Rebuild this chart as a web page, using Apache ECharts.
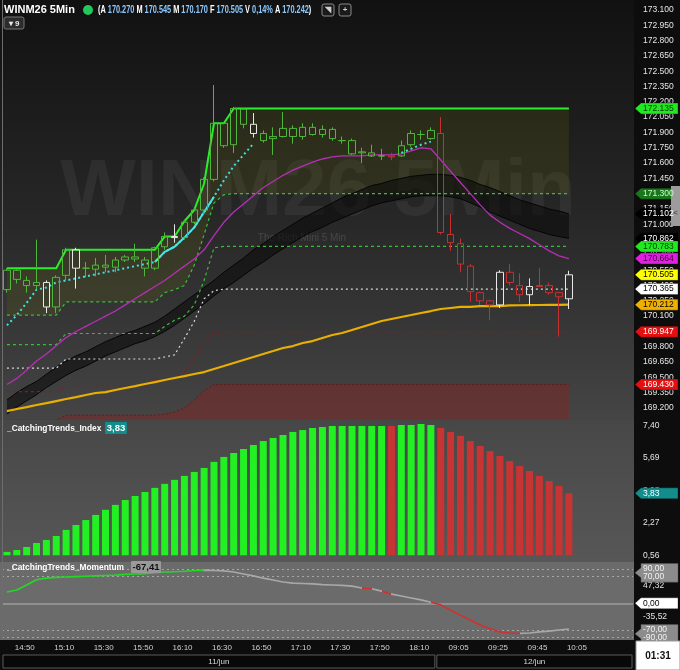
<!DOCTYPE html>
<html><head><meta charset="utf-8">
<script src="https://cdn.jsdelivr.net/npm/echarts@6/dist/echarts.min.js"></script>
<style>html,body{margin:0;padding:0;background:#0d0d0d}#c{width:680px;height:670px}</style>
</head><body><div id="c"></div>
<script>
const times = ['14:45','14:50','14:55','15:00','15:05','15:10','15:15','15:20','15:25','15:30','15:35','15:40','15:45','15:50','15:55','16:00','16:05','16:10','16:15','16:20','16:25','16:30','16:35','16:40','16:45','16:50','16:55','17:00','17:05','17:10','17:15','17:20','17:25','17:30','17:35','17:40','17:45','17:50','17:55','18:00','18:05','18:10','18:15','18:20','09:00','09:05','09:10','09:15','09:20','09:25','09:30','09:35','09:40','09:45','09:50','09:55','10:00','10:05'];
const sessionDays = ['11/jun','12/jun'];
const opens = [170.36,170.55,170.45,170.40,170.43,170.19,170.50,170.75,170.57,170.56,170.60,170.58,170.68,170.68,170.65,170.57,170.78,170.88,170.87,171.02,171.14,171.44,171.99,171.78,172.13,171.98,171.89,171.84,171.86,171.94,171.86,171.95,171.88,171.93,171.82,171.82,171.70,171.70,171.67,171.67,171.67,171.78,171.88,171.92,171.89,170.90,170.81,170.59,170.33,170.25,170.21,170.53,170.40,170.31,170.39,170.40,170.33,170.270];
const highs = [170.57,170.56,170.49,170.85,170.45,170.50,170.77,170.77,170.63,170.67,170.70,170.68,170.70,170.81,170.68,170.78,170.92,171.00,171.04,171.16,171.46,172.365,172.00,172.15,172.14,172.09,171.92,171.95,172.10,171.97,171.99,171.99,171.97,171.95,171.86,171.84,171.75,171.78,171.74,171.70,171.82,171.92,171.92,171.95,172.05,171.10,170.86,170.61,170.34,170.26,170.55,170.61,170.52,170.47,170.57,170.43,170.34,170.545];
const lows = [170.33,170.42,170.33,170.36,170.13,170.13,170.45,170.37,170.48,170.49,170.53,170.53,170.63,170.63,170.49,170.55,170.75,170.82,170.85,171.00,171.10,171.42,171.75,171.70,171.94,171.85,171.80,171.68,171.85,171.79,171.83,171.87,171.85,171.82,171.79,171.68,171.60,171.66,171.63,171.63,171.66,171.76,171.83,171.83,170.90,170.74,170.53,170.24,170.21,170.06,170.18,170.40,170.24,170.21,170.39,170.31,169.90,170.170];
const closes = [170.55,170.46,170.40,170.43,170.19,170.48,170.75,170.57,170.57,170.60,170.58,170.65,170.65,170.66,170.57,170.77,170.88,170.87,171.02,171.14,171.44,171.99,171.77,172.135,171.98,171.89,171.82,171.86,171.94,171.86,171.95,171.88,171.93,171.84,171.82,171.69,171.71,171.67,171.67,171.66,171.77,171.89,171.88,171.84,170.92,170.82,170.61,170.34,170.25,170.21,170.53,170.43,170.31,170.39,170.40,170.33,170.29,170.505];
const candleState = ['G','G','G','G','W','G','G','W','G','G','G','G','G','G','G','G','G','W','G','G','G','G','G','G','G','W','G','G','G','G','G','G','G','G','G','G','G','G','G','R','G','G','G','G','R','R','R','R','R','R','W','R','R','W','R','R','R','W'];
const topLine = [170.57,170.57,170.57,170.57,170.57,170.57,170.75,170.75,170.75,170.75,170.75,170.75,170.75,170.75,170.75,170.75,170.88,170.88,171.03,171.14,171.40,171.99,171.99,172.135,172.135,172.135,172.135,172.135,172.135,172.135,172.135,172.135,172.135,172.135,172.135,172.135,172.135,172.135,172.135,172.135,172.135,172.135,172.135,172.135,172.135,172.135,172.135,172.135,172.135,172.135,172.135,172.135,172.135,172.135,172.135,172.135,172.135,172.135];
const upperBandA = [170.11,170.11,170.11,170.11,170.11,170.11,170.24,170.24,170.24,170.24,170.24,170.24,170.24,170.24,170.24,170.24,170.33,170.36,170.40,170.60,170.90,171.21,171.29,171.30,171.30,171.30,171.30,171.30,171.30,171.30,171.30,171.30,171.30,171.30,171.30,171.30,171.30,171.30,171.30,171.30,171.30,171.30,171.30,171.30,171.30,171.30,171.30,171.30,171.30,171.30,171.30,171.30,171.30,171.30,171.30,171.30,171.30,171.30];
const upperBandB = [169.82,169.82,169.82,169.82,169.82,169.82,169.93,169.93,169.93,169.93,169.93,169.93,169.93,169.93,169.93,169.93,170.00,170.06,170.10,170.21,170.45,170.77,170.783,170.783,170.783,170.783,170.783,170.783,170.783,170.783,170.783,170.783,170.783,170.783,170.783,170.783,170.783,170.783,170.783,170.783,170.783,170.783,170.783,170.783,170.783,170.783,170.783,170.783,170.783,170.783,170.783,170.783,170.783,170.783,170.783,170.783,170.783,170.783];
const centerLine = [169.59,169.59,169.59,169.59,169.59,169.59,169.68,169.68,169.68,169.68,169.68,169.68,169.68,169.68,169.68,169.68,169.70,169.72,169.88,170.05,170.27,170.35,170.365,170.365,170.365,170.365,170.365,170.365,170.365,170.365,170.365,170.365,170.365,170.365,170.365,170.365,170.365,170.365,170.365,170.365,170.365,170.365,170.365,170.365,170.365,170.365,170.365,170.365,170.365,170.365,170.365,170.365,170.365,170.365,170.365,170.365,170.365,170.365];
const lowerBandB = [169.36,169.36,169.36,169.36,169.36,169.36,169.42,169.42,169.42,169.42,169.42,169.42,169.42,169.42,169.42,169.47,169.47,169.50,169.55,169.68,169.85,169.93,169.947,169.947,169.947,169.947,169.947,169.947,169.947,169.947,169.947,169.947,169.947,169.947,169.947,169.947,169.947,169.947,169.947,169.947,169.947,169.947,169.947,169.947,169.947,169.947,169.947,169.947,169.947,169.947,169.947,169.947,169.947,169.947,169.947,169.947,169.947,169.947];
const lowerBandA = [169.08,169.08,169.08,169.08,169.08,169.08,169.13,169.13,169.13,169.13,169.13,169.13,169.13,169.13,169.13,169.13,169.14,169.16,169.20,169.28,169.37,169.43,169.43,169.43,169.43,169.43,169.43,169.43,169.43,169.43,169.43,169.43,169.43,169.43,169.43,169.43,169.43,169.43,169.43,169.43,169.43,169.43,169.43,169.43,169.43,169.43,169.43,169.43,169.43,169.43,169.43,169.43,169.43,169.43,169.43,169.43,169.43,169.43];
const stopLine = [170.01,170.11,170.23,170.36,170.38,170.43,170.45,170.47,170.49,170.51,170.53,170.55,170.57,170.59,170.61,170.63,170.73,170.78,170.87,170.97,171.12,171.27,171.43,171.57,171.68,171.79,null,null,null,null,null,null,null,null,null,null,null,null,null,null,171.70,171.74,171.78,171.81,null,null,null,null,null,null,null,null,null,null,null,null,null,null];
const magentaLine = [169.43,169.49,169.57,169.66,169.73,169.81,169.89,169.95,170.00,170.05,170.10,170.15,170.21,170.27,170.33,170.39,170.45,170.52,170.59,170.66,170.75,170.89,171.02,171.12,171.20,171.28,171.36,171.42,171.48,171.53,171.57,171.61,171.64,171.66,171.67,171.67,171.67,171.68,171.68,171.68,171.69,171.72,171.75,171.74,171.63,171.52,171.41,171.30,171.19,171.09,171.02,170.96,170.91,170.86,170.80,170.74,170.69,170.664];
const bandUpper = [169.28,169.35,169.41,169.46,169.53,169.60,169.66,169.71,169.75,169.80,169.85,169.89,169.93,169.96,170.00,170.04,170.10,170.17,170.24,170.31,170.38,170.45,170.53,170.60,170.67,170.75,170.81,170.88,170.94,171.00,171.06,171.11,171.16,171.21,171.26,171.30,171.34,171.38,171.40,171.43,171.45,171.47,171.48,171.49,171.49,171.48,171.46,171.43,171.39,171.36,171.32,171.28,171.24,171.21,171.18,171.15,171.13,171.102];
const bandLower = [169.14,169.21,169.27,169.33,169.40,169.46,169.52,169.57,169.61,169.66,169.71,169.75,169.79,169.83,169.86,169.90,169.95,170.01,170.08,170.15,170.22,170.30,170.37,170.43,170.50,170.57,170.63,170.70,170.76,170.82,170.88,170.93,170.97,171.02,171.06,171.10,171.14,171.18,171.21,171.23,171.25,171.27,171.28,171.28,171.28,171.27,171.25,171.21,171.17,171.12,171.08,171.04,171.00,170.96,170.93,170.90,170.88,170.862];
const yellowLine = [169.170,169.190,169.209,169.229,169.248,169.268,169.288,169.307,169.327,169.347,169.356,169.376,169.396,169.415,169.435,169.454,169.474,169.494,169.513,169.533,169.552,169.582,169.611,169.641,169.670,169.699,169.729,169.758,169.788,169.807,169.837,169.856,169.886,169.915,169.935,169.964,169.994,170.023,170.052,170.072,170.092,170.111,170.131,170.150,170.170,170.180,170.190,170.190,170.199,170.199,170.199,170.205,170.207,170.208,170.209,170.210,170.211,170.212];
const indexValues = [0.74,0.84,1.00,1.21,1.37,1.58,1.90,2.16,2.42,2.69,2.96,3.22,3.48,3.69,3.90,4.12,4.33,4.54,4.75,4.96,5.17,5.49,5.75,5.96,6.17,6.38,6.59,6.75,6.91,7.07,7.17,7.28,7.33,7.38,7.38,7.38,7.38,7.38,7.38,7.38,7.44,7.44,7.49,7.44,7.28,7.07,6.86,6.59,6.33,6.06,5.80,5.54,5.27,5.01,4.75,4.48,4.22,3.83];
const indexState = [1,1,1,1,1,1,1,1,1,1,1,1,1,1,1,1,1,1,1,1,1,1,1,1,1,1,1,1,1,1,1,1,1,1,1,1,1,1,1,-1,1,1,1,1,-1,-1,-1,-1,-1,-1,-1,-1,-1,-1,-1,-1,-1,-1];
const momentumValues = [29.7,35,48,62,66,68,69,70,71,72,73,74,76,77,78,80,82,83,84,86,87,86,85,82,77,72,66,61,56,53,52,51,49,48,47,45,40,38,32,24,19,14,9,3,-4,-18,-31,-44,-57,-67,-75,-78,-79,-78,-75,-73,-70,-67.41];
const momentumState = [1,1,1,1,1,1,1,1,1,1,1,1,1,1,1,1,1,1,1,1,1,0,0,0,0,0,0,0,0,0,0,0,0,0,0,0,0,-1,0,-1,0,0,0,0,-1,-1,-1,-1,-1,-1,-1,-1,-1,0,0,0,0,0];
const momentumLevels = [90,70,0,-70,-90];
const momentumTickLabels = [47.32,-35.52];
const header = {symbol:'WINM26 5Min', variation:'0,14%', average:'170.242'};

const N = times.length, EXTRA = 6;
const cats = times.concat(Array.from({length:EXTRA},(_,i)=>' '.repeat(i+1)));
const pad = a => a.concat(Array(EXTRA).fill(null));
const FONT = '"Liberation Sans", Arial, sans-serif';

const palette = {
  G:{up:'rgba(0,0,0,0)', upB:'#4fb83a', dn:'#1f9e1f', dnB:'#55cc4a'},
  W:{up:'rgba(0,0,0,0)', upB:'#e8e8e8', dn:'#bdbdae', dnB:'#dcdccf'},
  R:{up:'rgba(0,0,0,0)', upB:'#c83030', dn:'#8e0c0c', dnB:'#c42828'}
};
const candleData = times.map((t,i)=>{const c=palette[candleState[i]];return {value:[opens[i],closes[i],lows[i],highs[i]],itemStyle:{color:c.up,color0:c.dn,borderColor:c.upB,borderColor0:c.dnB,borderWidth:1}};});
const indexData = indexValues.map((v,i)=>({value:v,itemStyle:{color:indexState[i]>0?'#22f022':'#c83434'}}));
const boxDiff = topLine.map((v,i)=>+(v-upperBandA[i]).toFixed(4));
const bandDiff = bandUpper.map((v,i)=>+(v-bandLower[i]).toFixed(4));

const pieceColors = {'1':'#22d822','0':'#a8a8a8','-1':'#d03030'};
const pieces = [];
let runStart = 0;
for (let i=1;i<=N;i++){ if(i===N || momentumState[i]!==momentumState[runStart]){ pieces.push({gt: runStart-1, lte: i-1, color: pieceColors[momentumState[runStart]]}); runStart=i; } }

const line = (data, color, width, type, extra) => Object.assign({type:'line', xAxisIndex:0, yAxisIndex:0, data:pad(data), symbol:'none', silent:true, connectNulls:false, lineStyle:{color, width, type:type||'solid'}}, extra||{});

const chart = echarts.init(document.getElementById('c'), null, {renderer:'canvas', width:680, height:670});
const option = {
  animation:false,
  backgroundColor:'#0d0d0d',
  grid:[
    {left:2,right:47,top:0,height:423.3},
    {left:2,right:47,top:420,height:135.3},
    {left:2,right:47,top:562,height:78}
  ],
  xAxis:[0,1,2].map(g=>({type:'category',gridIndex:g,data:cats,boundaryGap:true,
    axisLine:{show:false},axisTick:{show:false},splitLine:{show:false},
    axisLabel:g===2?{show:true,interval:(idx)=>idx<N && idx%4===1,color:'#d0d0d0',fontSize:8,fontFamily:FONT,margin:4,padding:[0,0,0,16]}:{show:false}})),
  yAxis:[
    {type:'value',gridIndex:0,position:'right',min:169.05,max:173.198,interval:0.15,scale:true,
      axisLine:{show:false},axisTick:{show:false},splitLine:{show:false},
      axisLabel:{color:'#e4e4e4',fontSize:8.5,fontFamily:FONT,margin:10,showMinLabel:false,showMaxLabel:false,formatter:v=>v.toFixed(3)}},
    {type:'value',gridIndex:1,position:'right',min:0.56,max:7.70,interval:1.71,
      axisLine:{show:false},axisTick:{show:false},splitLine:{show:false},
      axisLabel:{color:'#e4e4e4',fontSize:8.5,fontFamily:FONT,margin:10,showMaxLabel:false,formatter:v=>v.toFixed(2).replace('.',',')}},
    {type:'value',gridIndex:2,position:'right',min:-96.3,max:108.4,
      axisLine:{show:false},axisTick:{show:false},splitLine:{show:false},axisLabel:{show:false}}
  ],
  visualMap:[{type:'piecewise',show:false,seriesIndex:15,dimension:0,pieces,outOfRange:{color:'#a8a8a8'}}],
  series:[
    line(lowerBandA,'#6a1818',1,[2,2],{areaStyle:{origin:'start',color:'rgba(150,28,28,0.55)'},z:1}),
    line(upperBandA,'rgba(0,0,0,0)',0,'solid',{stack:'box',z:1}),
    line(boxDiff,'rgba(0,0,0,0)',0,'solid',{stack:'box',areaStyle:{color:'rgba(105,115,10,0.26)'},z:1}),
    line(bandLower,'#050505',1,'solid',{stack:'band',z:2}),
    line(bandDiff,'#050505',1,'solid',{stack:'band',areaStyle:{color:'rgba(8,8,8,0.82)'},z:2}),
    line(upperBandA,'#3cbc3c',1.2,[3,3],{z:3}),
    line(upperBandB,'#3cbc3c',1.2,[3,3],{z:3}),
    line(centerLine,'#d8d8d8',1.2,[2,3],{z:3}),
    line(lowerBandB,'#8a1c1c',1.2,[3,3],{z:3}),
    line(magentaLine,'#b52fb5',1.3,'solid',{z:4}),
    line(yellowLine,'#e8b000',2.2,'solid',{z:4}),
    line(stopLine,'#45dede',2,[2,3],{z:5}),
    line(stopLine.map((v,i)=>(i>=15&&i<=21)?v:null),'#45e6e6',2,'solid',{z:5}),
    line(topLine,'#2aee2a',2,'solid',{z:6}),
    {type:'candlestick',xAxisIndex:0,yAxisIndex:0,data:candleData,barWidth:7,silent:true,z:7},
    {type:'line',xAxisIndex:2,yAxisIndex:2,data:pad(momentumValues),symbol:'none',silent:true,lineStyle:{width:1.6},z:5,
      markLine:{silent:true,symbol:'none',label:{show:false},data:momentumLevels.map(v=>({yAxis:v,lineStyle:{color:v===0?'#9c9c9c':'#a6a6a6',width:v===0?1.5:1,type:v===0?'solid':[2,3]}}))}},
    {type:'bar',xAxisIndex:1,yAxisIndex:1,data:indexData,barWidth:7,silent:true,z:3}
  ]
};
chart.setOption(option);

const Y = (ax,v)=>chart.convertToPixel({yAxisIndex:ax},v);
const X = (i)=>chart.convertToPixel({xAxisIndex:2},i);
const band = X(1)-X(0);
const g = [];
g.push({type:'rect',shape:{x:0,y:0,width:634,height:420},style:{fill:new echarts.graphic.LinearGradient(0,0,0,1,[{offset:0,color:'#111111'},{offset:0.5,color:'#262626'},{offset:1,color:'#454545'}])},z:-10,silent:true});
g.push({type:'rect',shape:{x:0,y:420,width:634,height:142},style:{fill:new echarts.graphic.LinearGradient(0,0,0,1,[{offset:0,color:'#474747'},{offset:1,color:'#575757'}])},z:-10,silent:true});
g.push({type:'rect',shape:{x:0,y:420,width:634,height:3.5},style:{fill:'#474747'},z:20,silent:true});
g.push({type:'rect',shape:{x:0,y:562,width:634,height:78},style:{fill:'#6b6b6b'},z:-10,silent:true});
g.push({type:'line',shape:{x1:2.5,y1:0,x2:2.5,y2:640},style:{stroke:'#6d6d6d',lineWidth:1},z:30,silent:true});
g.push({type:'text',x:318,y:193,z:0,silent:true,style:{text:header.symbol,font:'bold 80px '+FONT,fill:'rgba(255,255,255,0.055)',align:'center',verticalAlign:'middle'}});
g.push({type:'text',x:302,y:238,z:0,silent:true,style:{text:'The Rich Mini 5 Min',font:'10px '+FONT,fill:'rgba(255,255,255,0.13)',align:'center',verticalAlign:'middle'}});
const L = t=>'{l|'+t+'}', Nn = t=>'{n|'+t+'}';
g.push({type:'text',x:4,y:10,z:100,silent:true,style:{text:header.symbol,font:'bold 11px '+FONT,fill:'#ffffff',verticalAlign:'middle'}});
g.push({type:'circle',shape:{cx:88,cy:10,r:5},style:{fill:'#22c85a'},z:100,silent:true});
g.push({type:'text',x:98,y:10,scaleX:0.70,z:100,silent:true,style:{verticalAlign:'middle',
  text:L('(A ')+Nn(opens[N-1].toFixed(3))+L(' M ')+Nn(highs[N-1].toFixed(3))+L(' M ')+Nn(lows[N-1].toFixed(3))+L(' F ')+Nn(closes[N-1].toFixed(3))+L(' V ')+Nn(header.variation)+L(' A ')+Nn(header.average)+L(')'),
  rich:{l:{fill:'#ffffff',fontSize:10.5,fontWeight:'bold',fontFamily:FONT},n:{fill:'#8ec9ff',fontSize:10.5,fontWeight:'bold',fontFamily:FONT}}}});
[[322,''],[339,'+']].forEach(([x,t])=>{
  g.push({type:'rect',shape:{x:x,y:4,width:12,height:12,r:2},style:{fill:'#1a1a1a',stroke:'#8a8a8a',lineWidth:1},z:100,silent:true});
  g.push({type:'text',x:x+6,y:10,z:101,silent:true,style:{text:t||'\u25E5',font:'bold 8px '+FONT,fill:'#cfcfcf',align:'center',verticalAlign:'middle'}});
});
g.push({type:'rect',shape:{x:4,y:17,width:20,height:12,r:2},style:{fill:'#2c2c2c',stroke:'#777',lineWidth:1},z:100,silent:true});
g.push({type:'text',x:14,y:23.5,z:101,silent:true,style:{text:'\u25BE 9',font:'bold 8px '+FONT,fill:'#e8e8e8',align:'center',verticalAlign:'middle'}});
g.push({type:'text',x:7,y:428,scaleX:0.88,z:100,silent:true,style:{text:'_CatchingTrends_Index',font:'bold 9.5px '+FONT,fill:'#ffffff',verticalAlign:'middle'}});
g.push({type:'rect',shape:{x:105,y:422,width:22,height:12,r:1},style:{fill:'#138c8c'},z:100,silent:true});
g.push({type:'text',x:116,y:428,z:101,silent:true,style:{text:indexValues[N-1].toFixed(2).replace('.',','),font:'bold 9.5px '+FONT,fill:'#ffffff',align:'center',verticalAlign:'middle'}});
g.push({type:'text',x:7,y:567,scaleX:0.88,z:100,silent:true,style:{text:'_CatchingTrends_Momentum',font:'bold 9.5px '+FONT,fill:'#ffffff',verticalAlign:'middle'}});
g.push({type:'rect',shape:{x:131,y:561,width:30,height:12,r:1},style:{fill:'#9a9a9a'},z:100,silent:true});
g.push({type:'text',x:146,y:567,z:101,silent:true,style:{text:momentumValues[N-1].toFixed(2).replace('.',','),font:'bold 9.5px '+FONT,fill:'#111',align:'center',verticalAlign:'middle'}});
function tag(y,text,bg,fg,h){h=h||5.5;
  g.push({type:'polygon',shape:{points:[[635,y],[641,y-h],[678,y-h],[678,y+h],[641,y+h]]},style:{fill:bg,stroke:'rgba(0,0,0,0.6)',lineWidth:0.5},z:100,silent:true});
  g.push({type:'text',x:643,y:y,z:101,silent:true,style:{text,font:'8.5px '+FONT,fill:fg,verticalAlign:'middle'}});
}
const last = a=>a[N-1];
[[last(topLine),'#22e822','#063806'],[last(upperBandA),'#1a761a','#c8ffc8'],[last(bandUpper),'#000','#fff'],[last(bandLower),'#000','#fff'],
 [last(upperBandB),'#22e822','#063806'],[last(magentaLine),'#e01fe0','#3a003a'],[last(closes),'#ffff00','#000'],[last(centerLine),'#ffffff','#000'],
 [last(yellowLine),'#f0b000','#000'],[last(lowerBandB),'#e41010','#fff'],[last(lowerBandA),'#e41010','#fff']].forEach(([v,bg,fg])=>tag(Y(0,v),v.toFixed(3),bg,fg));
tag(Y(1,last(indexValues)),last(indexValues).toFixed(2).replace('.',','),'#138c8c','#ffffff');
const fmt = v=>v.toFixed(2).replace('.',',');
function twoTag(v1,v2){const y1=Y(2,v1),y2=Y(2,v2),ym=(y1+y2)/2,top=Math.min(y1,y2)-5.5,bot=Math.max(y1,y2)+5.5;
  g.push({type:'polygon',shape:{points:[[635,ym],[641,ym-5],[641,top],[678,top],[678,bot],[641,bot],[641,ym+5]]},style:{fill:'#8c8c8c',stroke:'#555',lineWidth:0.5},z:100,silent:true});
  g.push({type:'text',x:643,y:y1,z:101,silent:true,style:{text:fmt(v1),font:'8.5px '+FONT,fill:'#f2f2f2',verticalAlign:'middle'}});
  g.push({type:'text',x:643,y:y2,z:101,silent:true,style:{text:fmt(v2),font:'8.5px '+FONT,fill:'#f2f2f2',verticalAlign:'middle'}});
}
twoTag(momentumLevels[0],momentumLevels[1]);
twoTag(momentumLevels[3],momentumLevels[4]);
tag(Y(2,momentumLevels[2]),fmt(momentumLevels[2]),'#ffffff','#000');
momentumTickLabels.forEach(v=>g.push({type:'text',x:643,y:Y(2,v),z:99,silent:true,style:{text:fmt(v),font:'8.5px '+FONT,fill:'#e4e4e4',verticalAlign:'middle'}}));
g.push({type:'rect',shape:{x:671,y:186,width:9,height:40},style:{fill:'#9c9c9c'},z:100,silent:true});
g.push({type:'text',x:675.5,y:213,z:101,silent:true,style:{text:'<',font:'8px '+FONT,fill:'#333',align:'center',verticalAlign:'middle'}});
const splitIdx = times.indexOf('09:00');
const splitX = X(splitIdx)-band/2;
[[3,splitX-1,sessionDays[0]],[splitX+1,632,sessionDays[1]]].forEach(([x0,x1,t])=>{
  g.push({type:'rect',shape:{x:x0,y:655,width:x1-x0,height:13},style:{fill:'#080808',stroke:'#5a5a5a',lineWidth:1},z:100,silent:true});
  g.push({type:'text',x:(x0+x1)/2,y:661.5,z:101,silent:true,style:{text:t,font:'8px '+FONT,fill:'#d8d8d8',align:'center',verticalAlign:'middle'}});
});
g.push({type:'rect',shape:{x:636,y:641,width:44,height:29},style:{fill:'#ffffff',stroke:'#999',lineWidth:1},z:100,silent:true});
g.push({type:'text',x:658,y:656,z:101,silent:true,style:{text:'01:31',font:'bold 10px '+FONT,fill:'#111',align:'center',verticalAlign:'middle'}});
chart.setOption({graphic:{elements:g}});
</script>
</body></html>
